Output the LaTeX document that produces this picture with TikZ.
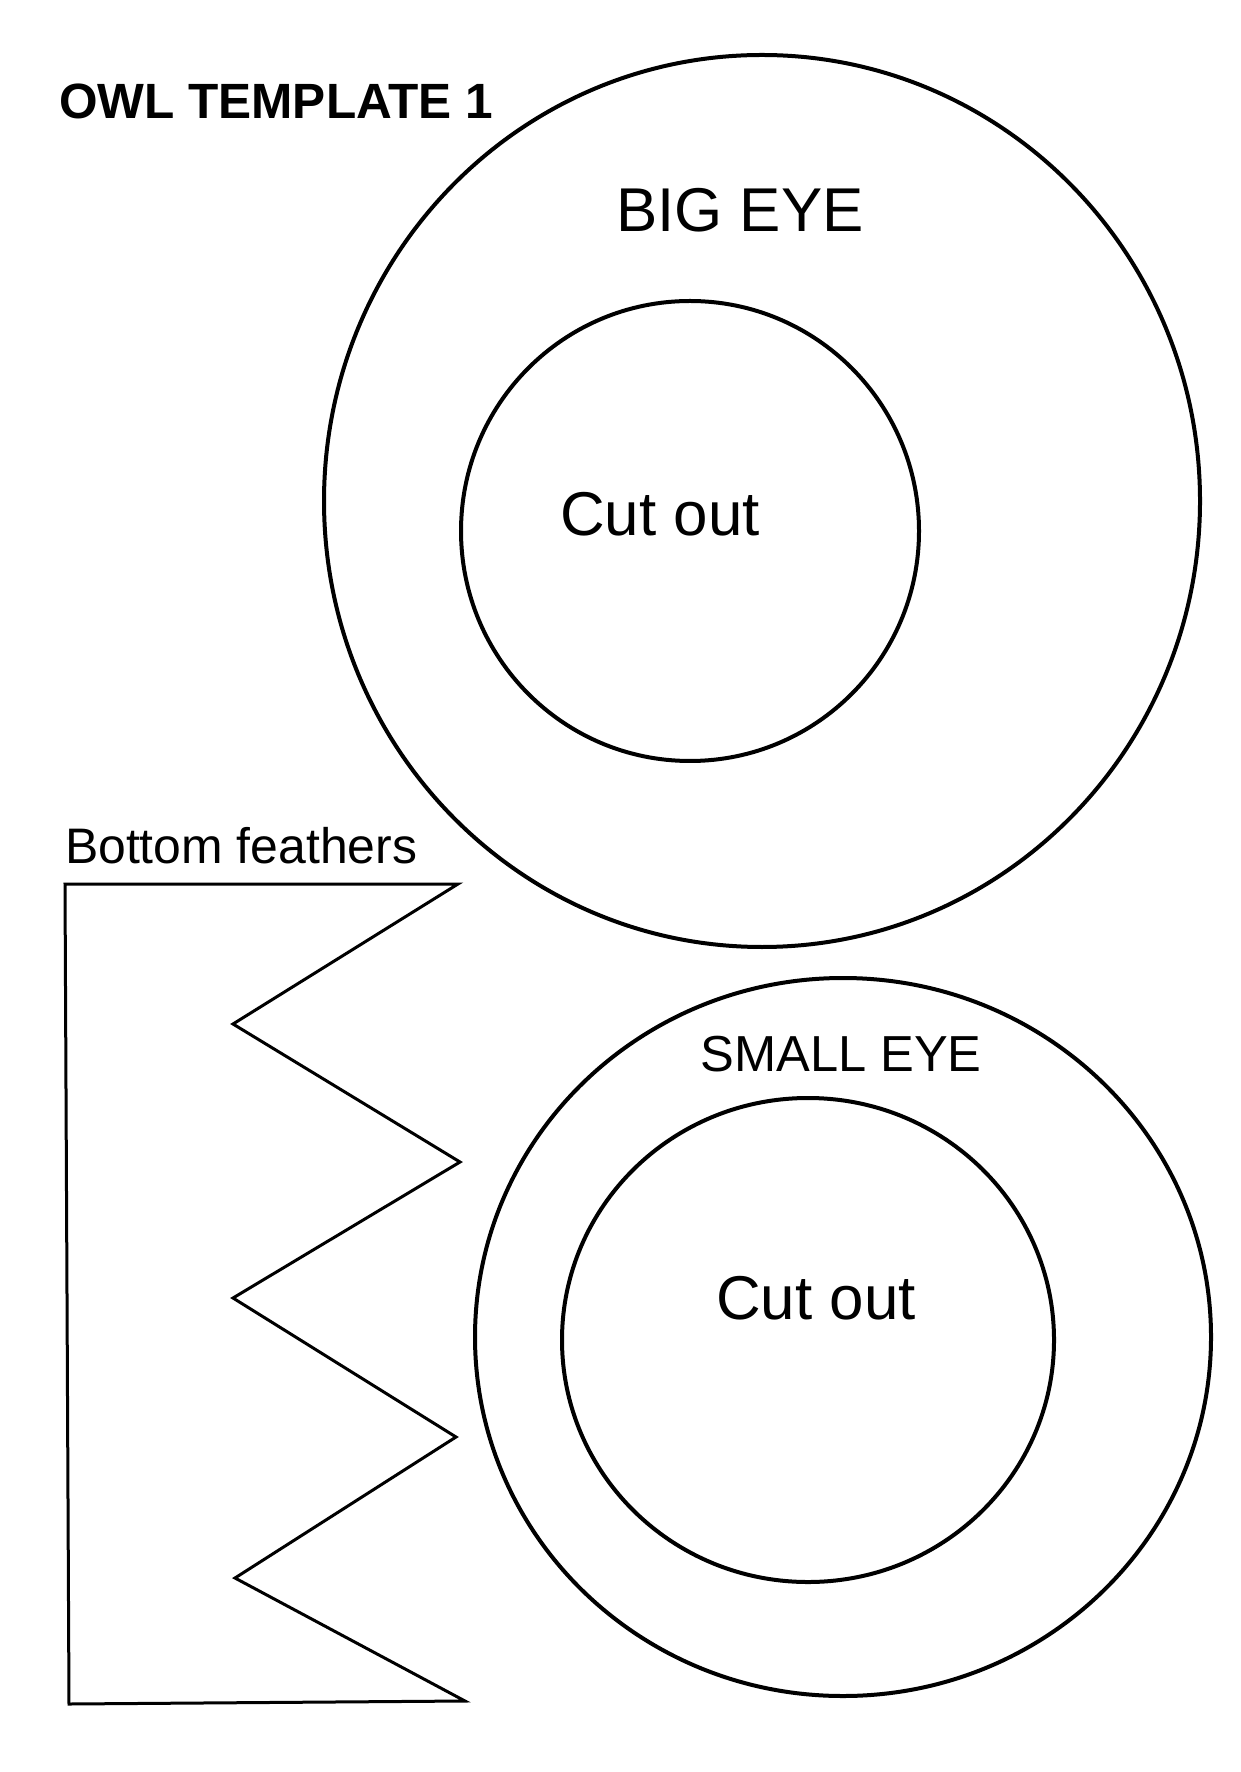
\documentclass[tikz,border=0pt]{standalone}
\usepackage{fontspec}
\setmainfont{Liberation Sans}

\begin{document}
\begin{tikzpicture}[x=0.1mm,y=-0.1mm,
 every node/.style={inner sep=0pt,outer sep=0pt},
 eyeline/.style={draw,line width=0.4mm},
 featherline/.style={draw,line width=0.3mm,line join=miter},
 bigtext/.style={anchor=base,font=\fontsize{17.6}{21}\selectfont},
 smalltext/.style={anchor=base,font=\fontsize{14.2}{17}\selectfont},
 titletext/.style={anchor=base west,font=\fontsize{14.1}{17}\selectfont\bfseries}]

  \useasboundingbox (0,0) rectangle (1240,1772);

  \node[titletext] (title) at (59,119) {OWL TEMPLATE 1};

  % big eye
  \draw[eyeline] (762,501) ellipse [x radius=438, y radius=446];
  \draw[eyeline] (690,531) ellipse [x radius=229, y radius=230];
  \node[bigtext] (bigeye) at (740,232) {BIG EYE};
  \node[bigtext] (bigcut) at (660,536) {Cut out};

  % small eye
  \draw[eyeline] (843,1337) ellipse [x radius=368, y radius=359];
  \draw[eyeline] (808,1340) ellipse [x radius=246, y radius=242];
  \node[smalltext,font=\fontsize{14.4}{17}\selectfont] (smalleye) at (841,1071) {SMALL EYE};
  \node[bigtext] (smallcut) at (816,1319) {Cut out};

  % bottom feathers
  \node[smalltext,anchor=base west] (feathers) at (65,863) {Bottom feathers};
  \draw[featherline] (65,884) -- (458,884) -- (233,1024) -- (460,1162)
   -- (233,1298) -- (456,1437) -- (235,1578) -- (465,1701) -- (69,1704) -- cycle;

\end{tikzpicture}
\end{document}
